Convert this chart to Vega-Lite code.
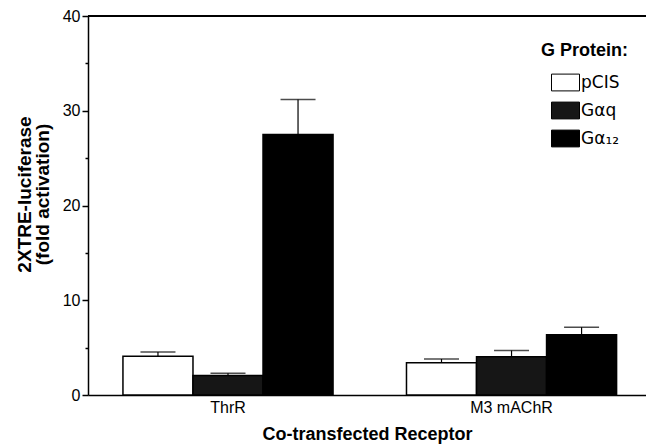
{
  "$schema": "https://vega.github.io/schema/vega-lite/v6.json",
  "width": 558,
  "height": 379,
  "autosize": "none",
  "padding": {"left": 88, "top": 16, "right": 0, "bottom": 51},
  "background": "white",
  "config": {
    "view": {"stroke": null},
    "font": "Liberation Sans"
  },
  "data": {
    "values": [
      {"receptor": "ThrR", "protein": "pCIS", "value": 4.1, "upper": 4.55},
      {"receptor": "ThrR", "protein": "Gαq", "value": 2.05, "upper": 2.3},
      {"receptor": "ThrR", "protein": "Gα₁₂", "value": 27.5, "upper": 31.2},
      {"receptor": "M3 mAChR", "protein": "pCIS", "value": 3.4, "upper": 3.8},
      {"receptor": "M3 mAChR", "protein": "Gαq", "value": 4.05, "upper": 4.7},
      {"receptor": "M3 mAChR", "protein": "Gα₁₂", "value": 6.36, "upper": 7.15}
    ]
  },
  "layer": [
    {
      "mark": {"type": "rule", "color": "black", "strokeWidth": 1.5},
      "encoding": {"y": {"datum": 40, "type": "quantitative"}}
    },
    {
      "encoding": {
        "x": {
          "field": "receptor",
          "type": "nominal",
          "sort": ["ThrR", "M3 mAChR"],
          "scale": {"paddingInner": 0.259, "paddingOuter": 0.1135, "align": 0.543},
          "axis": {
            "title": "Co-transfected Receptor",
            "titleFontSize": 18,
            "titleFontWeight": "bold",
            "titleColor": "black",
            "titlePadding": 10,
            "labelAngle": 0,
            "labelFontSize": 16,
            "labelColor": "black",
            "labelPadding": 4,
            "ticks": false,
            "domainColor": "black",
            "domainWidth": 1.5
          }
        },
        "xOffset": {
          "field": "protein",
          "type": "nominal",
          "sort": ["pCIS", "Gαq", "Gα₁₂"],
          "scale": {"paddingInner": 0, "paddingOuter": 0}
        }
      },
      "layer": [
        {
          "mark": {"type": "rule", "color": "black", "strokeWidth": 1.2},
          "encoding": {
            "y": {"field": "value", "type": "quantitative"},
            "y2": {"field": "upper"}
          }
        },
        {
          "mark": {"type": "tick", "orient": "horizontal", "color": "black", "size": 35, "thickness": 1.5},
          "encoding": {
            "y": {"field": "upper", "type": "quantitative"}
          }
        },
        {
          "mark": {"type": "bar", "stroke": "black", "strokeWidth": 1.5},
          "encoding": {
            "y": {
              "field": "value",
              "type": "quantitative",
              "scale": {"domain": [0, 40], "nice": false},
              "axis": {
                "values": [0, 5, 10, 15, 20, 25, 30, 35, 40],
                "labelExpr": "datum.value % 10 === 0 ? datum.label : ''",
                "tickSize": {"condition": {"test": "datum.value % 10 === 0", "value": 6}, "value": 3},
                "tickColor": "black",
                "tickWidth": 1.5,
                "domainColor": "black",
                "domainWidth": 1.5,
                "grid": false,
                "labelFontSize": 16,
                "labelColor": "black",
                "labelPadding": 2,
                "title": ["2XTRE-luciferase", "(fold activation)"],
                "titleFontSize": 19,
                "titleFontWeight": "bold",
                "titleColor": "black",
                "titleLineHeight": 18,
                "titlePadding": 10,
                "titleY": 178
              }
            },
            "color": {
              "field": "protein",
              "type": "nominal",
              "sort": ["pCIS", "Gαq", "Gα₁₂"],
              "scale": {"domain": ["pCIS", "Gαq", "Gα₁₂"], "range": ["#ffffff", "#161616", "#000000"]},
              "legend": {
                "title": "G Protein:",
                "orient": "none",
                "legendX": 453,
                "legendY": 26,
                "titleFontSize": 18,
                "titleFontWeight": "bold",
                "titleColor": "black",
                "titlePadding": 8,
                "labelFont": "DejaVu Sans",
                "labelFontSize": 17,
                "labelColor": "black",
                "labelOffset": 1,
                "symbolType": "M-1,-0.6H1V0.6H-1Z",
                "symbolSize": 784,
                "symbolStrokeColor": "black",
                "symbolStrokeWidth": 1,
                "symbolOffset": 10,
                "rowPadding": 3
              }
            }
          }
        }
      ]
    }
  ]
}
